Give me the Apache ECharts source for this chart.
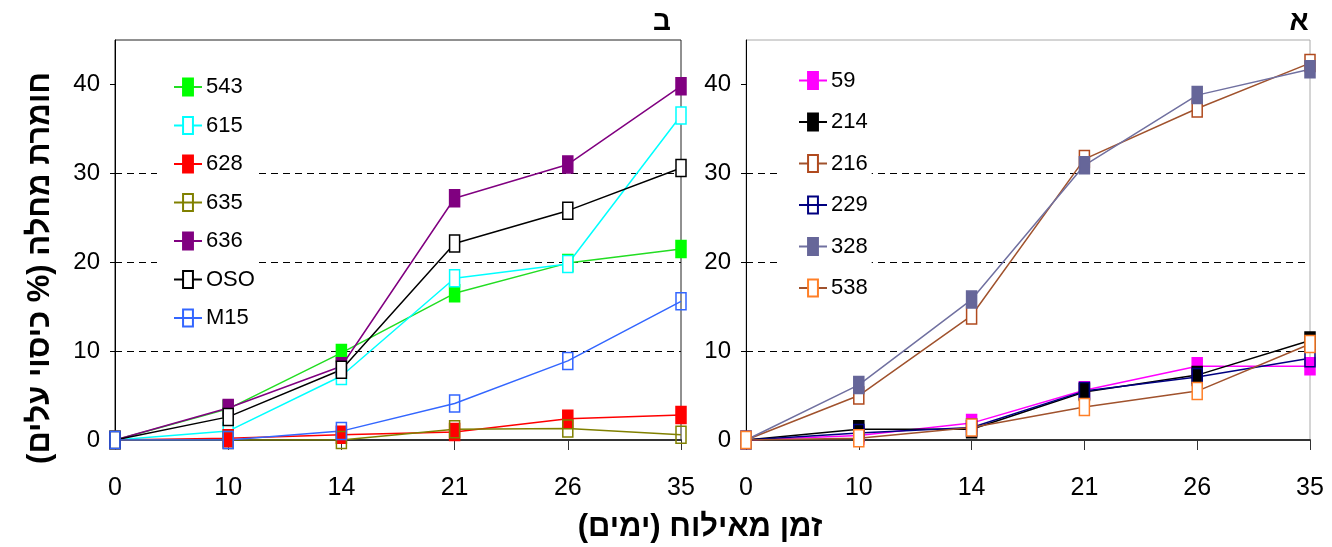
<!DOCTYPE html>
<html>
<head>
<meta charset="utf-8">
<script src="https://cdn.jsdelivr.net/npm/echarts@6/dist/echarts.min.js"></script>
<style>
html,body{margin:0;padding:0;background:#fff;}
#chart{width:1332px;height:547px;}
</style>
</head>
<body>
<div id="chart"></div>
<script>
// ---------- data ----------
const categories = ['0', '10', '14', '21', '26', '35'];
const yTicks = [0, 10, 20, 30, 40];

// Panel ב (left)
const s543 = [0, 3.5, 9.8, 16.5, 19.9, 21.5];
const s615 = [0, 1.0, 7.2, 18.2, 19.8, 36.5];
const s628 = [0, 0.2, 0.6, 0.9, 2.4, 2.8];
const s635 = [0, 0, 0, 1.2, 1.3, 0.6];
const s636 = [0, 3.6, 8.3, 27.2, 31.0, 39.8];
const sOSO = [0, 2.6, 7.9, 22.1, 25.8, 30.6];
const sM15 = [0, 0, 1.0, 4.1, 8.9, 15.6];

// Panel א (right)
const s59  = [0, 0.5, 1.9, 5.6, 8.3, 8.3];
const s214 = [0, 1.2, 1.2, 5.4, 7.3, 11.2];
const s216 = [0, 5.0, 14.0, 31.6, 37.3, 42.4];
const s229 = [0, 0.8, 1.4, 5.5, 7.1, 9.2];
const s328 = [0, 6.2, 15.8, 30.9, 38.8, 41.7];
const s538 = [0, 0.2, 1.4, 3.7, 5.5, 10.8];

const leftNames  = ['543', '615', '628', '635', '636', 'OSO', 'M15'];
const rightNames = ['59', '214', '216', '229', '328', '538'];

const xTitle = 'זמן מאילוח (ימים)\u200F';
const yTitle = 'חומרת מחלה (% כיסוי עלים)\u200F';
const leftLetter = 'ב';
const rightLetter = 'א';

// ---------- styles ----------
const SANS = '"Liberation Sans", Arial, sans-serif';
// tall rectangle inside a square bounding box (keeps its shape in the legend too)
const RECT = 'path://M-3.5,0M0,0H10V17H0ZM13.5,17';

function mk(name, data, idx, line, fill, border) {
  return {
    name: name, type: 'line', data: data,
    xAxisIndex: idx, yAxisIndex: idx,
    symbol: RECT, symbolSize: [17, 17],
    color: line,
    lineStyle: { color: line, width: 1.5 },
    itemStyle: { color: fill, borderColor: border, borderWidth: 1.5 },
    emphasis: { disabled: true },
    z: 3
  };
}

const series = [
  mk('543', s543, 0, '#22dd22', '#00ff00', '#00ff00'),
  mk('615', s615, 0, '#00ffff', '#ffffff', '#00ffff'),
  mk('628', s628, 0, '#ff0000', '#ff0000', '#ff0000'),
  mk('635', s635, 0, '#808000', 'rgba(0,0,0,0)', '#808000'),
  mk('636', s636, 0, '#800080', '#800080', '#800080'),
  mk('OSO', sOSO, 0, '#000000', '#ffffff', '#000000'),
  mk('M15', sM15, 0, '#3366ff', 'rgba(0,0,0,0)', '#3366ff'),
  mk('59',  s59,  1, '#ff00ff', '#ff00ff', '#ff00ff'),
  mk('214', s214, 1, '#000000', '#000000', '#000000'),
  mk('216', s216, 1, '#a0522d', '#ffffff', '#b04a1e'),
  mk('229', s229, 1, '#000080', 'rgba(0,0,0,0)', '#000080'),
  mk('328', s328, 1, '#7070a0', '#666699', '#666699'),
  mk('538', s538, 1, '#a0522d', '#ffffff', '#ff7f27')
];

function xAx(gi) {
  return {
    type: 'category', gridIndex: gi, data: categories, boundaryGap: false,
    axisLine: { lineStyle: { color: '#333', width: 2 } },
    axisTick: { show: true, length: 10, inside: false, lineStyle: { color: '#333', width: 1 } },
    axisLabel: { color: '#000', fontFamily: SANS, fontSize: 25, margin: 36 },
    splitLine: { show: false }
  };
}
function yAx(gi) {
  return {
    type: 'value', gridIndex: gi, min: 0, max: 45, interval: 10,
    axisLine: { show: true, lineStyle: { color: '#000', width: 1 } },
    axisTick: { show: true, length: 5, customValues: yTicks, lineStyle: { color: '#000' } },
    axisLabel: { color: '#000', fontFamily: SANS, fontSize: 24, margin: 15, customValues: yTicks },
    splitLine: { show: true, showMinLine: false, showMaxLine: false,
      lineStyle: { color: '#000', type: [7, 5], width: 1 } }
  };
}

function legend(names, left, top, gap) {
  return {
    data: names, orient: 'vertical', left: left, top: top,
    itemWidth: 28, itemHeight: 21, itemGap: gap,
    backgroundColor: '#fff',
    padding: [6, 4, 6, 16],
    textStyle: { fontFamily: SANS, fontSize: 22, color: '#000', padding: [0, 0, 0, -1] },
    selectedMode: false
  };
}

const option = {
  animation: false,
  backgroundColor: '#fff',
  grid: [
    { left: 115, width: 566, top: 40, bottom: 107, show: true, borderColor: '#222', borderWidth: 1 },
    { left: 746, width: 564, top: 40, bottom: 107, show: true, borderColor: '#aaa', borderWidth: 1 }
  ],
  xAxis: [xAx(0), xAx(1)],
  yAxis: [yAx(0), yAx(1)],
  legend: [
    legend(leftNames, 157, 70, 16.5),
    legend(rightNames, 782, 63.5, 19.5)
  ],
  series: series,
  graphic: [
    { type: 'text', x: 700, y: 527, style: { text: xTitle, font: 'bold 31px ' + SANS, fill: '#000', align: 'center', verticalAlign: 'middle' } },
    { type: 'text', x: 40, y: 268, rotation: Math.PI / 2, style: { text: yTitle, font: 'bold 31px ' + SANS, fill: '#000', align: 'center', verticalAlign: 'middle' } },
    { type: 'text', x: 662, y: 22, style: { text: leftLetter, font: 'bold 28px ' + SANS, fill: '#000', align: 'center', verticalAlign: 'middle' } },
    { type: 'text', x: 1299, y: 22, style: { text: rightLetter, font: 'bold 28px ' + SANS, fill: '#000', align: 'center', verticalAlign: 'middle' } }
  ]
};

const chart = echarts.init(document.getElementById('chart'), null, { renderer: 'canvas' });
chart.setOption(option);
</script>
</body>
</html>
